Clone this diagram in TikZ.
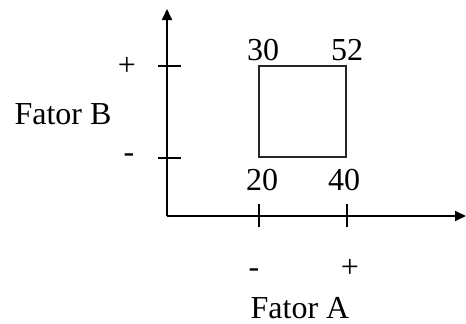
\documentclass[tikz,border=0pt]{standalone}
\usepackage{fontspec}
\setmainfont{Liberation Serif}
\usetikzlibrary{arrows.meta}

\begin{document}
\begin{tikzpicture}[
  x=1pt,y=-1pt,
  font=\fontsize{32}{38}\selectfont,
  >={Triangle[length=11pt,width=10pt]},
  axis/.style={->,line width=1.8pt},
  tickmark/.style={line width=1.6pt},
  cell/.style={draw=black!85,line width=1.6pt},
  txt/.style={anchor=base,inner sep=0pt},
]
\useasboundingbox (0,0) rectangle (466,324);

% axes
\coordinate (orig) at (167,216);
\coordinate (ytop) at (167,9);
\coordinate (xend) at (466,216);
\draw[axis] (orig) -- (ytop);
\draw[axis] (orig) -- (xend);

% ticks
\coordinate (bhi) at (167,66);
\coordinate (blo) at (167,158);
\coordinate (alo) at (259,216);
\coordinate (ahi) at (347,216);
\draw[tickmark] ([xshift=-9pt]bhi) -- ([xshift=14pt]bhi);
\draw[tickmark] ([xshift=-9pt]blo) -- ([xshift=14pt]blo);
\draw[tickmark] ([yshift=-11pt]alo) -- ([yshift=12pt]alo);
\draw[tickmark] ([yshift=-11pt]ahi) -- ([yshift=12pt]ahi);

% design square
\coordinate (c00) at (259,157);
\coordinate (c10) at (346,157);
\coordinate (c11) at (346,66);
\coordinate (c01) at (259,66);
\draw[cell] (c00) -- (c10) -- (c11) -- (c01) -- cycle;

% responses
\node[txt] (r01) at (263,60) {30};
\node[txt] (r11) at (347,60) {52};
\node[txt] (r00) at (262,190) {20};
\node[txt] (r10) at (344,190) {40};

% levels
\node[txt] (bplus)  at (127,75)  {+};
\node[txt] (bminus) at (129,162) {-};
\node[txt] (aminus) at (254,277) {-};
\node[txt] (aplus)  at (350,277) {+};

% factor names
\node[txt] (fb) at (63,124) {Fator B};
\node[txt] (fa) at (300,318) {Fator A};
\end{tikzpicture}
\end{document}
